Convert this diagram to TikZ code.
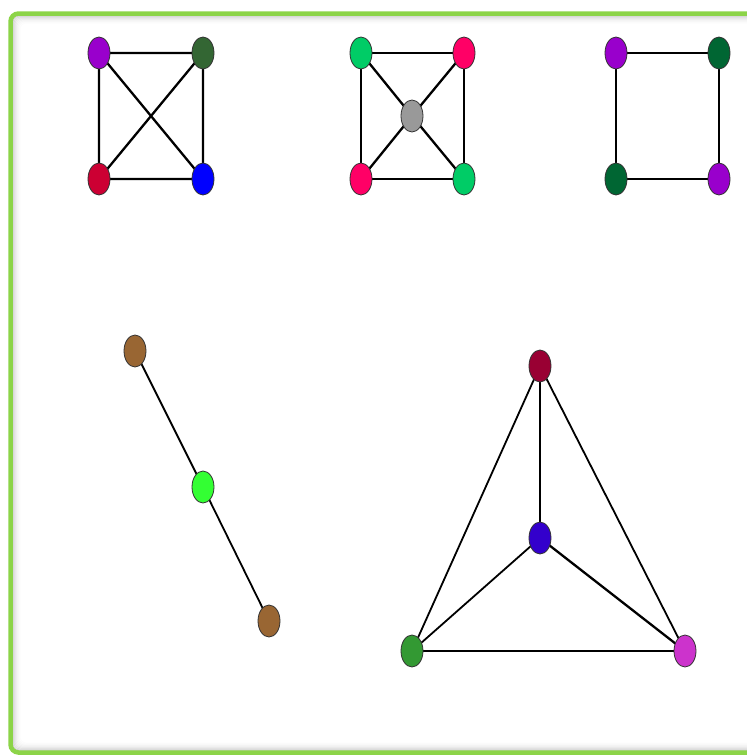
\documentclass[tikz,border=0pt]{standalone}
\usetikzlibrary{shapes.geometric}
\pgfdeclarelayer{framelayer}
\pgfdeclarelayer{edgelayer}
\pgfsetlayers{framelayer,edgelayer,main}
\definecolor{frame}{HTML}{8CD448}
\definecolor{cPurple}{HTML}{9900CC}
\definecolor{cDkGreen}{HTML}{336633}
\definecolor{cCrimson}{HTML}{CC0033}
\definecolor{cBlue}{HTML}{0000FF}
\definecolor{cGreen}{HTML}{00CC66}
\definecolor{cPink}{HTML}{FF0066}
\definecolor{cGray}{HTML}{999999}
\definecolor{cForest}{HTML}{006633}
\definecolor{cBrown}{HTML}{996633}
\definecolor{cLime}{HTML}{33FF33}
\definecolor{cMaroon}{HTML}{990033}
\definecolor{cIndigo}{HTML}{3300CC}
\definecolor{cLeaf}{HTML}{339933}
\definecolor{cOrchid}{HTML}{CC33CC}
\begin{document}
\begin{tikzpicture}[x=1pt,y=-1pt,
  vtx/.style={ellipse,draw=black!80,line width=0.8pt,minimum width=22pt,minimum height=32pt,inner sep=0pt,fill=#1},
  edge/.style={draw=black,line width=2.3pt}]
\useasboundingbox (0,0) rectangle (747,756);
% graph 1
\node[vtx=cPurple] (a1) at (99,53) {};
\node[vtx=cDkGreen] (a2) at (203,53) {};
\node[vtx=cCrimson] (a3) at (99,179) {};
\node[vtx=cBlue] (a4) at (203,179) {};
% graph 2
\node[vtx=cGreen] (b1) at (361,53) {};
\node[vtx=cPink] (b2) at (464,53) {};
\node[vtx=cGray] (b0) at (412,116) {};
\node[vtx=cPink] (b3) at (361,179) {};
\node[vtx=cGreen] (b4) at (464,179) {};
% graph 3
\node[vtx=cPurple] (c1) at (616,53) {};
\node[vtx=cForest] (c2) at (719,53) {};
\node[vtx=cForest] (c3) at (616,179) {};
\node[vtx=cPurple] (c4) at (719,179) {};
% graph 4
\node[vtx=cBrown] (d1) at (135,351) {};
\node[vtx=cLime] (d2) at (203,487) {};
\node[vtx=cBrown] (d3) at (269,621) {};
% graph 5
\node[vtx=cMaroon] (e1) at (540,366) {};
\node[vtx=cIndigo] (e0) at (540,538) {};
\node[vtx=cLeaf] (e2) at (412,651) {};
\node[vtx=cOrchid] (e3) at (685,651) {};
\begin{pgfonlayer}{edgelayer}
\draw[edge] (a1.center) -- (a2.center) -- (a4.center) -- (a3.center) -- (a1.center) -- (a4.center);
\draw[edge] (a2.center) -- (a3.center);
\draw[edge] (b1.center) -- (b2.center) -- (b4.center) -- (b3.center) -- (b1.center);
\draw[edge] (b1.center) -- (b0.center) -- (b4.center);
\draw[edge] (b2.center) -- (b0.center) -- (b3.center);
\draw[edge] (c1.center) -- (c2.center) -- (c4.center) -- (c3.center) -- (c1.center);
\draw[edge,line width=1.8pt] (d1.center) -- (d2.center) -- (d3.center);
\draw[edge,line width=1.8pt] (e1.center) -- (e0.center);
\draw[edge,line width=1.8pt] (e1.center) -- (e2.center);
\draw[edge,line width=1.8pt] (e1.center) -- (e3.center);
\draw[edge,line width=1.8pt] (e0.center) -- (e2.center);
\draw[edge] (e0.center) -- (e3.center);
\draw[edge] (e2.center) -- (e3.center);
\end{pgfonlayer}
\begin{pgfonlayer}{framelayer}
\begin{scope}
\clip (0,0) rectangle (747,756);
\fill[white] (11,14) rectangle (770,752);
\foreach \i/\o in {1/0.22,2/0.17,3/0.13,4/0.10,5/0.07,6/0.05,7/0.035,8/0.02,9/0.01}{
  \draw[black,opacity=\o,line width=1pt,rounded corners=6pt] (11+\i,14+\i) rectangle (770,752-\i);
}
\draw[frame,line width=4.5pt,rounded corners=8pt] (10.5,13.5) rectangle (770,752.5);
\end{scope}
\end{pgfonlayer}
\end{tikzpicture}
\end{document}
